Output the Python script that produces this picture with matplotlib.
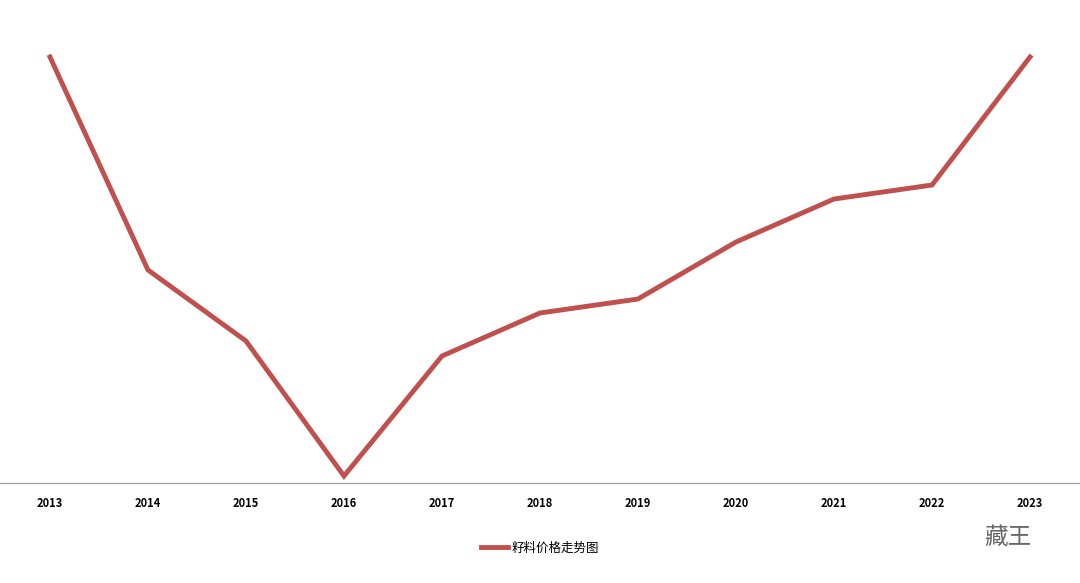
import matplotlib
matplotlib.use("Agg")
import matplotlib.pyplot as plt

plt.rcParams['font.family'] = ['Noto Sans CJK SC', 'DejaVu Sans']

years = [2013, 2014, 2015, 2016, 2017, 2018, 2019, 2020, 2021, 2022, 2023]
prices = [426, 213, 142, 7, 127, 170, 184, 241, 284, 298, 426]
series_name = "籽料价格走势图"

fig = plt.figure(figsize=(10.8, 5.83), dpi=100)
ax = fig.add_axes([0, 100 / 583, 1, 483 / 583])
ax.plot(years, prices, color="#c0504d", linewidth=3.5, label=series_name,
        solid_joinstyle="miter")
ax.set_xlim(2012.49, 2023.51)
ax.set_ylim(0, 483)
ax.set_xticks(years)
ax.set_xticklabels([str(y) for y in years], fontsize=8, fontweight="bold")
ax.tick_params(axis="x", length=0, pad=10)
ax.set_yticks([])
for s in ["top", "left", "right"]:
    ax.spines[s].set_visible(False)
ax.spines["bottom"].set_color("#999999")

fig.legend(loc="center", bbox_to_anchor=(0.5, 1 - 548 / 583), frameon=False,
           fontsize=9, handlelength=2.2, handletextpad=0.3)
fig.text(0.955, 1 - 537 / 583, "藏王", fontsize=17, color="#666666",
         ha="right", va="center")

fig.savefig("out.png", dpi=100)
